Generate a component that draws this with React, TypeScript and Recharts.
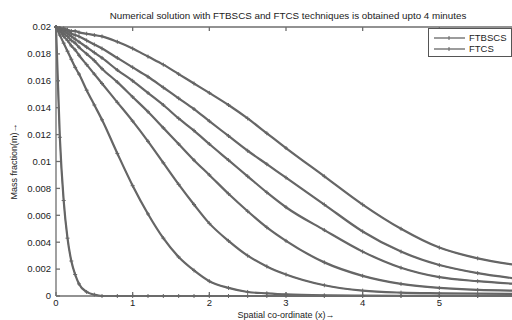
import { LineChart, Line, XAxis, YAxis, Legend } from "recharts"

// spatial grid (x) and mass fraction profiles, one array per time level
const xs = [0, 0.05, 0.1, 0.15, 0.2, 0.25, 0.3, 0.4, 0.5, 0.6, 0.8, 1, 1.2, 1.4, 1.6, 1.8, 2, 2.25, 2.5, 2.75, 3, 3.5, 4, 4.5, 5, 5.5, 6]

const c1 = [0.02, 0.0118, 0.0071, 0.0043, 0.0026, 0.0016, 0.0009, 0.0003, 0.0001, 0, 0, 0, 0, 0, 0, 0, 0, 0, 0, 0, 0, 0, 0, 0, 0, 0, 0]
const c2 = [0.02, 0.0194, 0.0188, 0.0182, 0.0176, 0.017, 0.0165, 0.0153, 0.0142, 0.0131, 0.0106, 0.0082, 0.0061, 0.0043, 0.0029, 0.0019, 0.0011, 0.0006, 0.0003, 0.0002, 0.00012, 0.00005, 0.00003, 0.00002, 0.00001, 0, 0]
const c3 = [0.02, 0.0197, 0.0193, 0.019, 0.0186, 0.0183, 0.0179, 0.0172, 0.0165, 0.0158, 0.0144, 0.013, 0.0115, 0.0099, 0.0083, 0.0068, 0.0054, 0.0041, 0.003, 0.0022, 0.0016, 0.0008, 0.0004, 0.00025, 0.0002, 0.00017, 0.00015]
const c4 = [0.02, 0.0198, 0.0195, 0.0193, 0.019, 0.0188, 0.0185, 0.018, 0.0175, 0.0169, 0.0159, 0.0148, 0.0137, 0.0125, 0.0113, 0.0101, 0.009, 0.0076, 0.0063, 0.0051, 0.0041, 0.0025, 0.0015, 0.0009, 0.0006, 0.00045, 0.0004]
const c5 = [0.02, 0.0199, 0.0197, 0.0195, 0.0193, 0.0191, 0.0189, 0.0185, 0.0181, 0.0177, 0.0168, 0.016, 0.0151, 0.0142, 0.0132, 0.0123, 0.0113, 0.0101, 0.0089, 0.0077, 0.0066, 0.0049, 0.0033, 0.0021, 0.0014, 0.0011, 0.0009]
const c6 = [0.02, 0.0199, 0.0198, 0.0197, 0.0195, 0.0194, 0.0193, 0.019, 0.0187, 0.0184, 0.0177, 0.017, 0.0163, 0.0155, 0.0147, 0.0139, 0.013, 0.0119, 0.0108, 0.0098, 0.0088, 0.0068, 0.0048, 0.0033, 0.0023, 0.0017, 0.0013]
const c7 = [0.02, 0.0199, 0.0199, 0.0198, 0.0197, 0.0197, 0.0196, 0.0195, 0.0194, 0.0193, 0.0189, 0.0184, 0.0178, 0.0172, 0.0165, 0.0158, 0.0151, 0.0142, 0.0132, 0.0121, 0.011, 0.0089, 0.0068, 0.005, 0.0036, 0.0028, 0.0023]

const profiles = [c1, c2, c3, c4, c5, c6, c7]
const methods = ["FTBSCS", "FTCS"]

const xTicks = [0, 1, 2, 3, 4, 5]
const topTicks = [1, 2, 3, 4, 5]
const yTicks = [0, 0.002, 0.004, 0.006, 0.008, 0.01, 0.012, 0.014, 0.016, 0.018, 0.02]

const title = "Numerical solution with FTBSCS and FTCS techniques is obtained upto 4 minutes"
const xLabel = "Spatial co-ordinate (x)\u2192"
const yLabel = "Mass fraction(m)\u2192"

const rows = xs.map((x, i) => {
  const row: Record<string, number> = { x }
  profiles.forEach((p, k) => {
    row["c" + (k + 1)] = p[i]
  })
  return row
})

const FONT = "'Liberation Sans', Arial, sans-serif"
const LINE = "#666666"
const AXIS = "#6e6e6e"

function PlusDot(props: any) {
  const { cx, cy } = props
  if (cx == null || cy == null) return <g />
  return (
    <path
      d={`M${cx - 2},${cy}H${cx + 2}M${cx},${cy - 2}V${cy + 2}`}
      stroke={LINE}
      strokeWidth={1}
      fill="none"
    />
  )
}

function LegendBox() {
  return (
    <div
      style={{
        width: 84,
        height: 29,
        boxSizing: "border-box",
        border: "1px solid #555",
        background: "#fff",
        fontFamily: FONT,
        fontSize: 9.5,
        color: "#222",
        paddingTop: 3,
      }}
    >
      {methods.map((m) => (
        <div key={m} style={{ display: "flex", alignItems: "center", height: 11 }}>
          <svg width={40} height={8} style={{ display: "block" }}>
            <line x1={5} y1={4} x2={36} y2={4} stroke={LINE} strokeWidth={1.3} />
            <path d="M20,2V6" stroke={LINE} strokeWidth={1} />
          </svg>
          <span style={{ lineHeight: "11px" }}>{m}</span>
        </div>
      ))}
    </div>
  )
}

export default function App() {
  return (
    <div
      style={{
        position: "absolute",
        left: 0,
        top: 0,
        width: 512,
        height: 320,
        overflow: "hidden",
        background: "#fff",
      }}
    >
      <div
        style={{
          position: "absolute",
          left: 58,
          top: 10,
          width: 460,
          textAlign: "center",
          fontFamily: FONT,
          fontSize: 9.8,
          lineHeight: "12px",
          color: "#222",
          whiteSpace: "nowrap",
        }}
      >
        {title}
      </div>
      <LineChart width={530} height={320} data={rows} margin={{ top: 26, right: 14, bottom: 0, left: 0 }}>
        <XAxis
          xAxisId="b"
          dataKey="x"
          type="number"
          domain={[0, 6]}
          ticks={xTicks}
          height={24}
          tickSize={-4}
          tickMargin={7}
          stroke={AXIS}
          strokeWidth={1.3}
          tick={{ fontSize: 9.5, fill: "#222", fontFamily: FONT }}
          tickLine={{ stroke: AXIS }}
          label={(p: any) => {
            const vb = p.viewBox
            return (
              <text x={vb.x + vb.width / 2} y={vb.y + 22} textAnchor="middle" fontSize={9} fontFamily={FONT} fill="#222">
                {xLabel}
              </text>
            )
          }}
        />
        <XAxis
          xAxisId="t"
          orientation="top"
          type="number"
          dataKey="x"
          domain={[0, 6]}
          ticks={topTicks}
          height={1}
          tickSize={-4}
          stroke={AXIS}
          strokeWidth={1.3}
          tick={() => <g />}
          tickLine={{ stroke: AXIS }}
        />
        <YAxis
          type="number"
          domain={[0, 0.02]}
          ticks={yTicks}
          width={56}
          tickSize={-4}
          tickMargin={9}
          stroke={AXIS}
          strokeWidth={1.3}
          tick={{ fontSize: 9.5, fill: "#222", fontFamily: FONT }}
          tickLine={{ stroke: AXIS }}
          label={(p: any) => {
            const vb = p.viewBox
            const cy = vb.y + vb.height / 2
            return (
              <text
                x={14}
                y={cy}
                transform={`rotate(-90 14 ${cy})`}
                textAnchor="middle"
                dominantBaseline="central"
                fontSize={9}
                fontFamily={FONT}
                fill="#222"
              >
                {yLabel}
              </text>
            )
          }}
        />
        <Legend
          layout="vertical"
          align="center"
          verticalAlign="middle"
          content={() => <LegendBox />}
          wrapperStyle={{ left: 428, top: 28, width: 84, height: 29 }}
        />
        {/* hidden series so the top (box) axis gets drawn */}
        <Line
          xAxisId="t"
          dataKey="c7"
          stroke="none"
          dot={false}
          legendType="none"
          isAnimationActive={false}
        />
        {profiles.map((_, k) => (
          <Line
            key={"a" + k}
            xAxisId="b"
            dataKey={"c" + (k + 1)}
            name={methods[0]}
            type="monotone"
            stroke={LINE}
            strokeWidth={2.2}
            dot={false}
            isAnimationActive={false}
          />
        ))}
        {profiles.map((_, k) => (
          <Line
            key={"b" + k}
            xAxisId="b"
            dataKey={"c" + (k + 1)}
            name={methods[1]}
            type="monotone"
            stroke={LINE}
            strokeWidth={1}
            dot={<PlusDot />}
            isAnimationActive={false}
          />
        ))}
      </LineChart>
    </div>
  )
}
